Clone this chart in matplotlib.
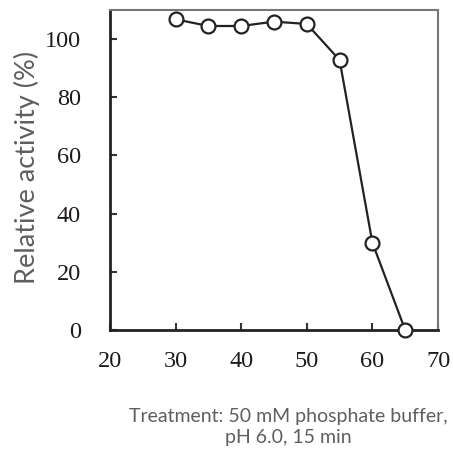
import matplotlib.pyplot as plt

temperature = [30, 35, 40, 45, 50, 55, 60, 65]
activity = [106.8, 104.5, 104.5, 106, 105.2, 92.8, 30, 0]
x_ticks = [20, 30, 40, 50, 60, 70]
y_ticks = [0, 20, 40, 60, 80, 100]


def main():
    W, H = 453, 450
    fig = plt.figure(figsize=(W / 100, H / 100), dpi=100)
    ax = fig.add_axes([110 / W, 1 - 330 / H, 328 / W, 320 / H])

    ax.plot(temperature, activity, color="#222222", linewidth=1.6, marker="o",
            markersize=10, markerfacecolor="white", markeredgecolor="#222222",
            markeredgewidth=1.6, clip_on=False, zorder=3)

    ax.set_xlim(20, 70)
    ax.set_ylim(0, 110)
    ax.set_xticks(x_ticks)
    ax.set_yticks(y_ticks)
    ax.tick_params(direction="in", length=5, width=1.5, color="#333333",
                   labelsize=17.5, labelcolor="#1e1a1a")
    ax.tick_params(axis="y", pad=21)
    ax.tick_params(axis="x", pad=15)
    for lab in ax.get_xticklabels() + ax.get_yticklabels():
        lab.set_family("Liberation Serif")

    for side in ("left", "bottom"):
        ax.spines[side].set_linewidth(2)
        ax.spines[side].set_color("#222222")
    for side in ("top", "right"):
        ax.spines[side].set_linewidth(1.5)
        ax.spines[side].set_color("#777777")

    fig.text(27 / W, 1 - 167 / H, "Relative activity (%)", rotation=90,
             ha="center", va="center", family="Lato",
             fontsize=19.5, color="#5e5e5e")

    fig.text(288 / W, 1 - 427 / H,
             "Treatment: 50 mM phosphate buffer,\npH 6.0, 15 min",
             ha="center", va="center", family="Lato",
             fontsize=14, color="#5e5e5e", linespacing=1.35)

    fig.savefig("out.png", dpi=100)
    plt.close(fig)


if __name__ == "__main__":
    main()
